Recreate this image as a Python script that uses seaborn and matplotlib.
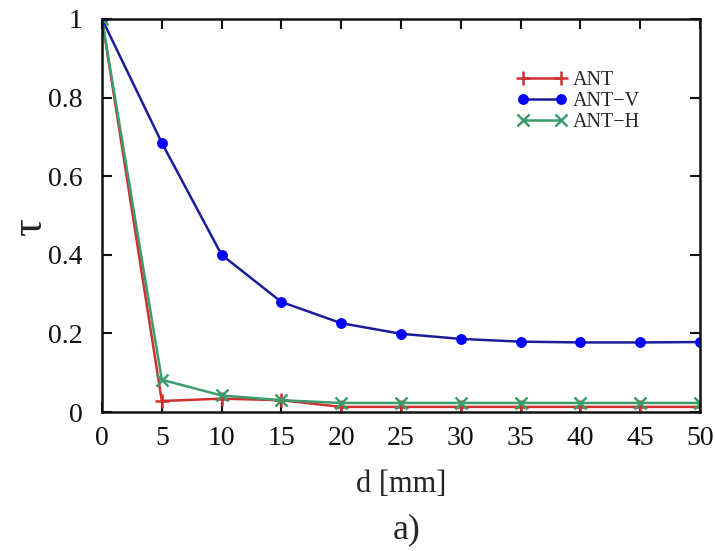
import numpy as np
import pandas as pd
import matplotlib
matplotlib.use("Agg")
import matplotlib.pyplot as plt
import seaborn as sns

# Transmission coefficient versus distance
d_mm = [0, 5, 10, 15, 20, 25, 30, 35, 40, 45, 50]
tau_ant = [1.0, 0.028, 0.034, 0.030, 0.013, 0.013, 0.013, 0.013, 0.013, 0.013, 0.013]
tau_ant_v = [1.0, 0.685, 0.400, 0.280, 0.226, 0.199, 0.186, 0.179, 0.177, 0.177, 0.178]
tau_ant_h = [1.0, 0.082, 0.042, 0.030, 0.023, 0.023, 0.023, 0.023, 0.023, 0.023, 0.023]

series_names = ["ANT", "ANT\u2212V", "ANT\u2212H"]
line_colors = ["#d03030", "#1c1c9a", "#3c9c6c"]
marker_colors = ["#d03030", "#0000ff", "#3c9c6c"]
markers = ["+", "o", "x"]
marker_sizes = [10, 6, 8]

df = pd.DataFrame({
    "d": d_mm * 3,
    "tau": tau_ant + tau_ant_v + tau_ant_h,
    "series": np.repeat(series_names, len(d_mm)),
})

sns.set_theme(style="white")
plt.rcParams["font.family"] = ["Liberation Serif", "DejaVu Serif"]

fig = plt.figure(figsize=(7.15, 5.51), dpi=100)
ax = fig.add_axes([102 / 715, 1 - 412 / 551, 598 / 715, 393 / 551])

for name, lc, mc, mk, ms in zip(series_names, line_colors, marker_colors, markers, marker_sizes):
    sub = df[df["series"] == name]
    sns.lineplot(data=sub, x="d", y="tau", ax=ax, color=lc, linewidth=1.8,
                 marker=mk, markersize=ms,
                 markerfacecolor=mc, markeredgecolor=mc, markeredgewidth=1.8,
                 label=name)

ax.set_xlim(0, 50)
ax.set_ylim(0, 1)
ax.set_xticks(range(0, 51, 5))
ax.set_yticks([0, 0.2, 0.4, 0.6, 0.8, 1.0])
ax.set_yticklabels(["0", "0.2", "0.4", "0.6", "0.8", "1"])
ax.tick_params(direction="in", length=7, width=1.5, bottom=True, left=True,
               top=True, right=True, labelsize=20, colors="#111111", pad=10)
ax.tick_params(axis="y", pad=14)
for sp in ax.spines.values():
    sp.set_color("#111111")
    sp.set_linewidth(1.8)

ax.set_xlabel("d [mm]", fontsize=22, labelpad=14)
ax.set_ylabel("\u03c4", fontsize=32, rotation=90, va="center")
ax.yaxis.set_label_coords(-0.12, 0.47)

leg = ax.legend(loc="upper right", bbox_to_anchor=(0.93, 0.915), frameon=False,
                fontsize=14.5, handlelength=2.5, handletextpad=0.3,
                labelspacing=0.1, numpoints=2)

fig.text(0.569, 0.008, "a)", fontsize=26, ha="center", va="bottom")

fig.savefig("out.png", dpi=100, facecolor="white")
